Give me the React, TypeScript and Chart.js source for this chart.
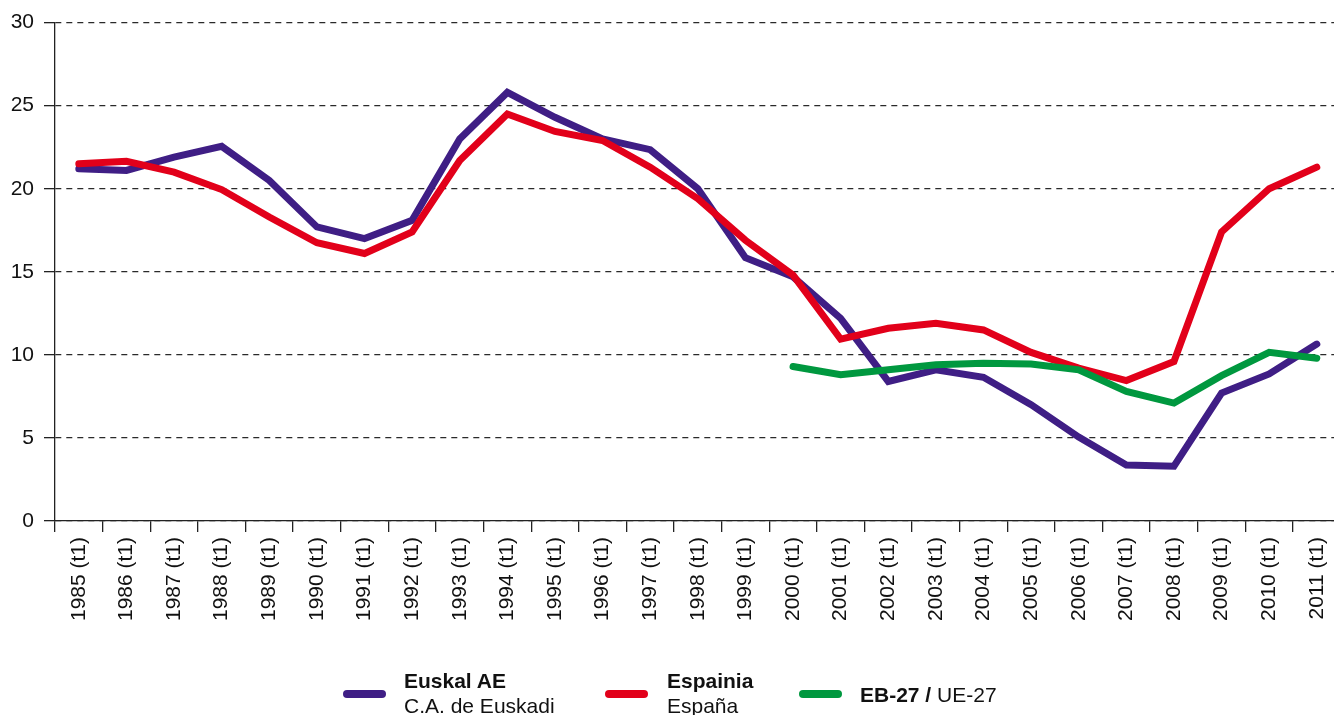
import React, { useEffect, useRef } from "react";
import { Chart, registerables } from "chart.js";

Chart.register(...registerables);

const categories = [
  "1985 (t1)", "1986 (t1)", "1987 (t1)", "1988 (t1)", "1989 (t1)", "1990 (t1)",
  "1991 (t1)", "1992 (t1)", "1993 (t1)", "1994 (t1)", "1995 (t1)", "1996 (t1)",
  "1997 (t1)", "1998 (t1)", "1999 (t1)", "2000 (t1)", "2001 (t1)", "2002 (t1)",
  "2003 (t1)", "2004 (t1)", "2005 (t1)", "2006 (t1)", "2007 (t1)", "2008 (t1)",
  "2009 (t1)", "2010 (t1)", "2011 (t1)",
];

const euskadi = [
  21.2, 21.1, 21.9, 22.55, 20.5, 17.7, 17.0, 18.1, 23.0, 25.8, 24.3, 23.0, 22.35,
  20.0, 15.85, 14.7, 12.2, 8.4, 9.1, 8.65, 7.0, 5.05, 3.37, 3.3, 7.7, 8.85, 10.65,
];

const espana = [
  21.5, 21.65, 21.0, 19.95, 18.3, 16.75, 16.1, 17.4, 21.7, 24.5, 23.45, 22.9, 21.3,
  19.4, 16.9, 14.8, 10.95, 11.6, 11.9, 11.5, 10.15, 9.2, 8.45, 9.6, 17.4, 20.0, 21.3,
];

const ue27: (number | null)[] = [
  null, null, null, null, null, null, null, null, null, null, null, null, null,
  null, null, 9.3, 8.8, 9.1, 9.4, 9.5, 9.45, 9.1, 7.8, 7.1, 8.75, 10.15, 9.8,
];

const yMin = 0;
const yMax = 30;
const yStep = 5;

const PURPLE = "#3f1e85";
const RED = "#e2001a";
const GREEN = "#00983f";
const FONT = "'Liberation Sans', Arial, Helvetica, sans-serif";
const CANVAS_W = 1347;

export default function App() {
  const canvasRef = useRef<HTMLCanvasElement | null>(null);

  useEffect(() => {
    if (!canvasRef.current) return;
    const lineDs = (data: (number | null)[], color: string) => ({
      data,
      borderColor: color,
      backgroundColor: color,
      borderWidth: 7,
      pointRadius: 0,
      pointHoverRadius: 0,
      tension: 0,
      fill: false,
      borderJoinStyle: "miter" as const,
      borderCapStyle: "round" as const,
      spanGaps: false,
    });
    const chart = new Chart(canvasRef.current, {
      type: "line",
      data: {
        labels: categories,
        datasets: [
          { label: "EB-27 / UE-27", ...lineDs(ue27, GREEN) },
          { label: "Espainia", ...lineDs(espana, RED) },
          { label: "Euskal AE", ...lineDs(euskadi, PURPLE) },
        ],
      },
      options: {
        responsive: false,
        animation: false,
        layout: { padding: { top: 22, left: 0, right: 0, bottom: 0 } },
        plugins: {
          legend: { display: false },
          tooltip: { enabled: false },
        },
        scales: {
          x: {
            type: "category",
            offset: true,
            grid: {
              display: true,
              drawOnChartArea: false,
              drawTicks: true,
              tickLength: 11,
              offset: true,
              color: "#222",
              lineWidth: 1.3,
            },
            border: { display: true, color: "#222", width: 1.3 },
            ticks: {
              autoSkip: false,
              maxRotation: 90,
              minRotation: 90,
              padding: 5,
              color: "#111",
              font: { family: FONT, size: 21 },
            },
            afterFit: (s: any) => {
              s.height = 194;
            },
          },
          y: {
            min: yMin,
            max: yMax,
            ticks: {
              stepSize: yStep,
              padding: 10,
              color: "#111",
              font: { family: FONT, size: 21 },
            },
            grid: {
              color: "#2a2a2a",
              lineWidth: 1.3,
              tickLength: 11,
              tickColor: "#222",
              tickWidth: 1.3,
              tickBorderDash: [],
            },
            border: { display: true, color: "#222", width: 1.3, dash: [6, 5] },
            afterFit: (s: any) => {
              s.width = 55;
            },
          },
        },
      },
    });
    return () => chart.destroy();
  }, []);

  const swatch = (left: number, color: string): React.CSSProperties => ({
    position: "absolute",
    left,
    top: 690,
    width: 43,
    height: 8,
    borderRadius: 4,
    background: color,
  });

  const textStyle = (left: number, top: number): React.CSSProperties => ({
    position: "absolute",
    left,
    top,
    fontFamily: FONT,
    fontSize: 21,
    lineHeight: "25px",
    color: "#111",
    whiteSpace: "nowrap",
  });

  return (
    <div
      style={{
        position: "fixed",
        left: 0,
        top: 0,
        width: 1334,
        height: 715,
        overflow: "hidden",
        background: "#fff",
      }}
    >
      <canvas
        ref={canvasRef}
        width={CANVAS_W}
        height={715}
        style={{ position: "absolute", left: 0, top: 0, width: CANVAS_W, height: 715 }}
      />
      <div style={swatch(343, PURPLE)} />
      <div style={textStyle(404, 668)}>
        <div style={{ fontWeight: "bold" }}>Euskal AE</div>
        <div>C.A. de Euskadi</div>
      </div>
      <div style={swatch(605, RED)} />
      <div style={textStyle(667, 668)}>
        <div style={{ fontWeight: "bold" }}>Espainia</div>
        <div>España</div>
      </div>
      <div style={swatch(799, GREEN)} />
      <div style={textStyle(860, 682)}>
        <span style={{ fontWeight: "bold" }}>EB-27 /</span> UE-27
      </div>
    </div>
  );
}
